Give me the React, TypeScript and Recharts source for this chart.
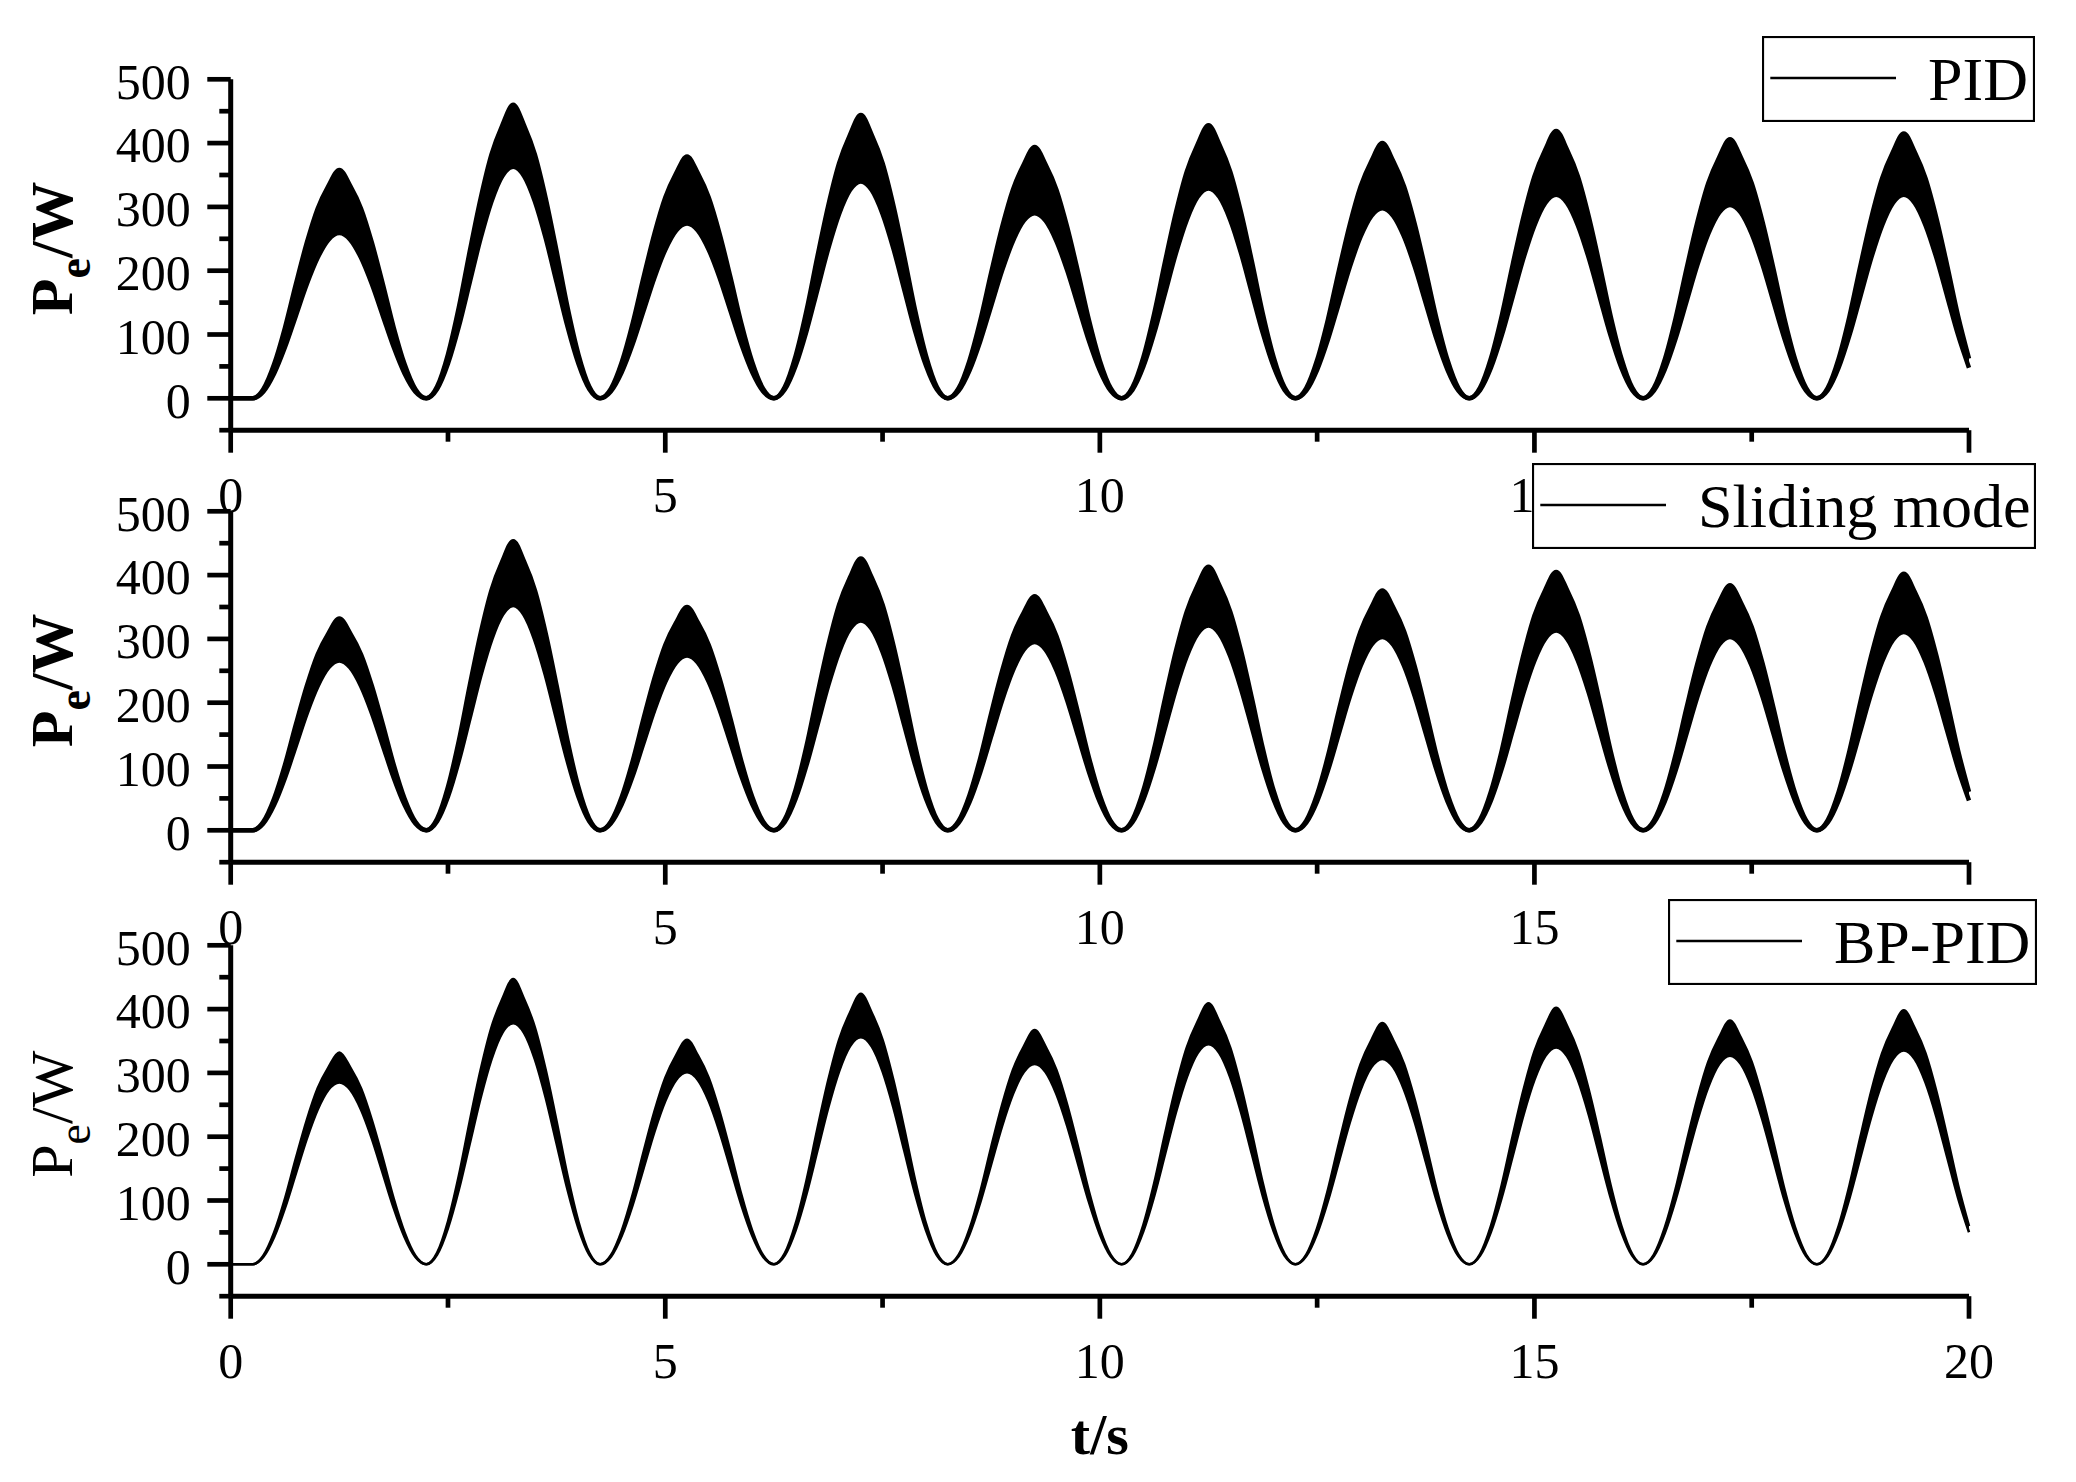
import React from 'react';
import { ComposedChart, Area, XAxis, YAxis, Legend } from 'recharts';

const FONT = '"Liberation Serif", "Times New Roman", Times, serif';

// sampling grid of the time axis (s)
const timeStep = 0.125;
const times = Array.from({ length: 161 }, (_, i) => i * timeStep);
const firstTrough = 0.25; // signal stays at 0 until here
const humpPeriod = 2; // s, trough to trough

// normalised hump shapes (one sample per 0.125 s, trough -> peak -> next trough)
const upperShape = [0, 0.04, 0.15, 0.31, 0.5, 0.68, 0.83, 0.93, 1, 0.93, 0.83, 0.68, 0.5, 0.31, 0.15, 0.04];
const lowerShape = [0, 0.04, 0.15, 0.31, 0.5, 0.69, 0.85, 0.96, 1, 0.96, 0.85, 0.69, 0.5, 0.31, 0.15, 0.04];

// peak values of each of the 10 humps (W): upper / lower edge of the ripple band
const pidHigh = [358, 460, 379, 444, 394, 428, 400, 419, 406, 415];
const pidLow = [259, 363, 274, 340, 290, 329, 298, 319, 303, 319];
const smHigh = [332, 453, 350, 426, 367, 413, 376, 405, 384, 402];
const smLow = [266, 353, 274, 329, 295, 321, 303, 313, 303, 311];
const bpHigh = [332, 447, 352, 424, 367, 409, 378, 402, 382, 398];
const bpLow = [285, 378, 301, 356, 314, 345, 322, 340, 327, 335];

const seriesNames = ['PID', 'Sliding mode', 'BP-PID'];

// axis ticks
const xTicks = [0, 2.5, 5, 7.5, 10, 12.5, 15, 17.5, 20];
const xMajor = [0, 5, 10, 15, 20];
const yTicks = [-50, 0, 50, 100, 150, 200, 250, 300, 350, 400, 450, 500];
const yMajor = [0, 100, 200, 300, 400, 500];

function buildData(high: number[], low: number[]) {
  return times.map((t) => {
    if (t < firstTrough) return { t, v: [0, 0] };
    const rel = t - firstTrough;
    const k = Math.min(high.length - 1, Math.floor(rel / humpPeriod + 1e-9));
    const j = Math.round((rel - k * humpPeriod) / timeStep) % upperShape.length;
    return { t, v: [low[k] * lowerShape[j], high[k] * upperShape[j]] };
  });
}

const panels = [
  { name: seriesNames[0], data: buildData(pidHigh, pidLow), top: 0, bold: true, stroke: 4.5, h: 560,
    legend: { left: 1762, top: 36, width: 273 } },
  { name: seriesNames[1], data: buildData(smHigh, smLow), top: 432.2, bold: true, stroke: 4.5, h: 560,
    legend: { left: 1531.7, top: 30.5, width: 504 } },
  { name: seriesNames[2], data: buildData(bpHigh, bpLow), top: 865.7, bold: false, stroke: 2.6, h: 616,
    legend: { left: 1667.7, top: 33.6, width: 369 } },
];

const XTick = (props: any) => {
  const { x, y, payload, showLast } = props;
  const v = payload.value;
  const major = xMajor.includes(v);
  const showLabel = major && (showLast || v !== 20);
  return (
    <g>
      <line x1={x} x2={x} y1={y} y2={y + (major ? 22.5 : 11.5)} stroke="#000" strokeWidth={4.7} />
      {showLabel && (
        <text x={x} y={y + 81.5} textAnchor="middle" fontFamily={FONT} fontSize={50} fill="#000">
          {v}
        </text>
      )}
    </g>
  );
};

const YTick = (props: any) => {
  const { x, y, payload } = props;
  const v = payload.value;
  const major = yMajor.includes(v);
  return (
    <g>
      <line x1={x} x2={x - (major ? 23.4 : 11.4)} y1={y} y2={y} stroke="#000" strokeWidth={4.7} />
      {major && (
        <text x={x - 40} y={y + 19.3} textAnchor="end" fontFamily={FONT} fontSize={50} fill="#000">
          {v}
        </text>
      )}
    </g>
  );
};

const YTitle = (props: any) => {
  const vb = props.viewBox || { x: 130.7, y: 79.3, width: 100, height: 350.9 };
  const cx = vb.x + vb.width - 159;
  const cy = vb.y + vb.height / 2 - 6.5;
  return (
    <text
      transform={`translate(${cx},${cy}) rotate(-90)`}
      textAnchor="middle"
      fontFamily={FONT}
      fontSize={60}
      fontWeight={props.bold ? 700 : 400}
      fill="#000"
    >
      <tspan>P</tspan>
      <tspan fontSize={46} dy={18}>e</tspan>
      <tspan dy={-18}>/W</tspan>
    </text>
  );
};

const XTitle = (props: any) => {
  const vb = props.viewBox || { x: 230.7, y: 430.2, width: 1738.3, height: 100 };
  return (
    <text x={vb.x + vb.width / 2} y={vb.y + 158.1} textAnchor="middle" fontFamily={FONT} fontSize={58} fontWeight={700} fill="#000">
      t/s
    </text>
  );
};

const LegendBox = ({ width, label }: { width: number; label: string }) => {
  const h = 86;
  return (
    <svg width={width} height={h} style={{ display: 'block' }}>
      <rect x={1} y={1} width={width - 2} height={h - 2} fill="#fff" stroke="#000" strokeWidth={2.2} />
      <line x1={8.3} x2={134} y1={42} y2={42} stroke="#000" strokeWidth={2.5} />
      <text x={166} y={64} fontFamily={FONT} fontSize={62} fill="#000">
        {label}
      </text>
    </svg>
  );
};

const Panel = ({ p, last }: { p: (typeof panels)[number]; last: boolean }) => {
  const plotTop = 79.3;
  const plotBottom = 430.2;
  const xAxisH = 100;
  const yAxisW = 100;
  return (
    <div style={{ position: 'absolute', left: 0, top: p.top, width: 2076, height: p.h }}>
      <ComposedChart
        width={2076}
        height={p.h}
        data={p.data}
        margin={{ top: plotTop, right: 2076 - 1969, left: 230.7 - yAxisW, bottom: p.h - plotBottom - xAxisH }}
        style={{ overflow: 'visible' }}
      >
        <XAxis
          type="number"
          dataKey="t"
          domain={[0, 20]}
          ticks={xTicks}
          interval={0}
          tickSize={0}
          tickMargin={0}
          tickLine={false}
          height={xAxisH}
          axisLine={{ stroke: '#000', strokeWidth: 5 }}
          tick={(tp: any) => <XTick {...tp} showLast={last} />}
          label={last ? <XTitle /> : undefined}
        />
        <YAxis
          type="number"
          domain={[-50, 500]}
          ticks={yTicks}
          interval={0}
          tickSize={0}
          tickMargin={0}
          tickLine={false}
          width={yAxisW}
          axisLine={{ stroke: '#000', strokeWidth: 5 }}
          tick={(tp: any) => <YTick {...tp} />}
          label={<YTitle bold={p.bold} />}
        />
        <Area
          type="monotone"
          dataKey="v"
          name={p.name}
          stroke="#000"
          strokeWidth={p.stroke}
          fill="#000"
          fillOpacity={1}
          dot={false}
          activeDot={false}
          isAnimationActive={false}
        />
        <Legend
          layout="vertical"
          align="center"
          verticalAlign="middle"
          wrapperStyle={{ left: p.legend.left, top: p.legend.top, width: p.legend.width, height: 86, lineHeight: 0 }}
          content={() => <LegendBox width={p.legend.width} label={p.name} />}
        />
      </ComposedChart>
    </div>
  );
}

export default function App() {
  return (
    <div style={{ position: 'absolute', left: 0, top: 0, width: 2076, height: 1482, background: '#fff' }}>
      {panels.map((p, i) => (
        <Panel key={p.name} p={p} last={i === panels.length - 1} />
      ))}
    </div>
  );
}
